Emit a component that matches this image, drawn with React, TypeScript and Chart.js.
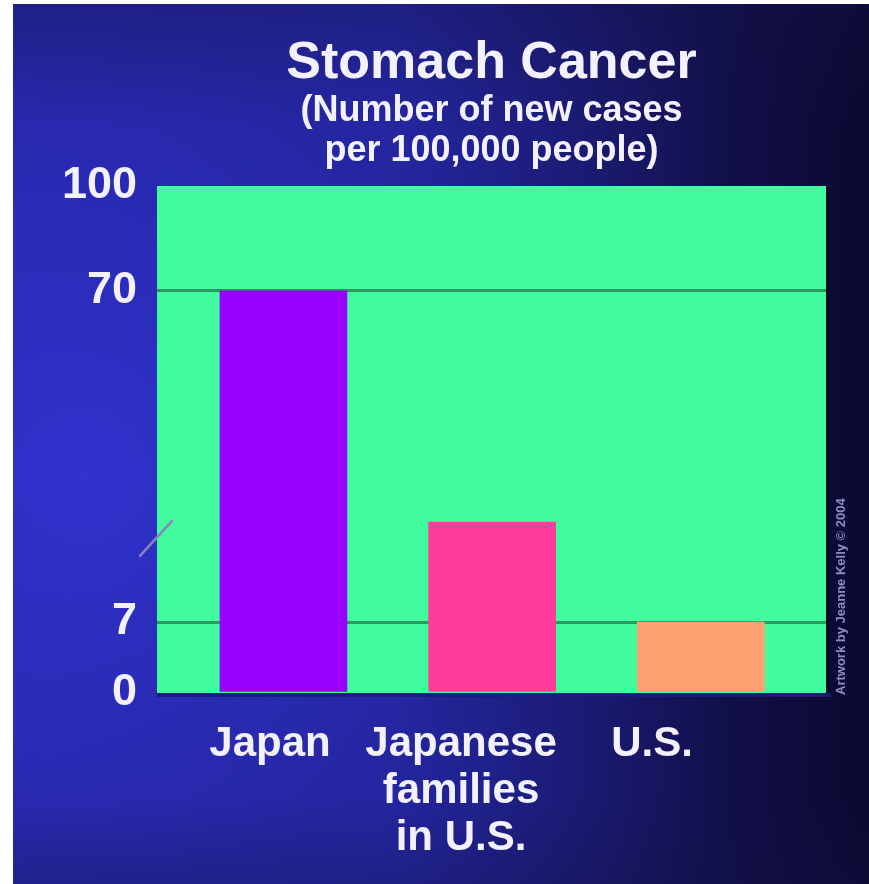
import { useEffect, useRef } from 'react';
import { Chart, registerables, LinearScale } from 'chart.js';

// Incidence of stomach cancer, new cases per 100,000 people
const categories: (string | string[])[] = ['Japan', ['Japanese', 'families', 'in U.S.'], 'U.S.'];
const newCasesPer100k = [70, 26, 7];
const barColors = ['#9a00ff', '#ff3c9c', '#ffa072'];
const yTickValues = [0, 7, 70, 100];
const highlightedLines = [7, 70];

const FONT = "'Liberation Sans', Arial, Helvetica, sans-serif";
const TEXT = '#f3f1ff';
const PLOT_GREEN = '#41fc9e';
const LINE_GREEN = '#2b9a5e';

// Linear scale with a broken (piecewise) value axis: each stop pairs a value
// with the fraction of the axis length at which it sits.
class BrokenLinearScale extends LinearScale {
  static id = 'brokenLinear';
  static defaults = { ...(LinearScale as any).defaults };

  stopList(): [number, number][] {
    return (this.options as any).stops;
  }

  getPixelForValue(value: number) {
    if (value === null || value === undefined || isNaN(value)) return NaN;
    const s = this.stopList();
    let dec = s[s.length - 1][1];
    if (value <= s[0][0]) {
      dec = s[0][1];
    } else {
      for (let i = 1; i < s.length; i++) {
        if (value <= s[i][0]) {
          const [v0, f0] = s[i - 1];
          const [v1, f1] = s[i];
          dec = f0 + ((value - v0) / (v1 - v0)) * (f1 - f0);
          break;
        }
      }
    }
    return this.getPixelForDecimal(dec);
  }

  getValueForPixel(pixel: number) {
    const dec = this.getDecimalForPixel(pixel);
    const s = this.stopList();
    for (let i = 1; i < s.length; i++) {
      if (dec <= s[i][1]) {
        const [v0, f0] = s[i - 1];
        const [v1, f1] = s[i];
        return v0 + ((dec - f0) / (f1 - f0)) * (v1 - v0);
      }
    }
    return s[s.length - 1][0];
  }
}

Chart.register(...registerables, BrokenLinearScale);

// Slide-style backdrop, green plot panel and its shadowed edges
const backdropPlugin = {
  id: 'backdrop',
  beforeDraw(chart: any) {
    const { ctx, width, height, chartArea: a } = chart;
    ctx.save();
    const base = ctx.createLinearGradient(0, 0, width, 0);
    base.addColorStop(0, 'rgb(40,40,172)');
    base.addColorStop(0.45, 'rgb(36,38,160)');
    base.addColorStop(0.68, 'rgb(26,26,112)');
    base.addColorStop(0.84, 'rgb(17,15,72)');
    base.addColorStop(1, 'rgb(11,9,48)');
    ctx.fillStyle = base;
    ctx.fillRect(0, 0, width, height);

    const glow = ctx.createRadialGradient(70, 470, 0, 70, 470, 420);
    glow.addColorStop(0, 'rgba(52,54,220,0.75)');
    glow.addColorStop(0.6, 'rgba(48,50,205,0.35)');
    glow.addColorStop(1, 'rgba(48,50,205,0)');
    ctx.fillStyle = glow;
    ctx.fillRect(0, 0, width, height);

    const vert = ctx.createLinearGradient(0, 0, 0, height);
    vert.addColorStop(0, 'rgba(18,18,70,0.35)');
    vert.addColorStop(0.14, 'rgba(18,18,70,0)');
    vert.addColorStop(0.9, 'rgba(18,18,70,0)');
    vert.addColorStop(1, 'rgba(18,18,70,0.3)');
    ctx.fillStyle = vert;
    ctx.fillRect(0, 0, width, height);

    // panel shadow on the right and bottom
    ctx.fillStyle = 'rgba(10,10,45,0.9)';
    ctx.fillRect(a.right, a.top + 2, 5, a.bottom - a.top + 3);
    ctx.fillStyle = 'rgba(26,28,120,0.95)';
    ctx.fillRect(a.left, a.bottom, a.right - a.left + 5, 4);

    ctx.fillStyle = PLOT_GREEN;
    ctx.fillRect(a.left, a.top, a.right - a.left, a.bottom - a.top);
    ctx.restore();
  },
};

// Axis-break slash and the vertical credit line
const overlayPlugin = {
  id: 'overlay',
  afterDraw(chart: any) {
    const { ctx, chartArea: a, scales } = chart;
    const yBreak = scales.y.getPixelForValue(23);
    ctx.save();
    ctx.strokeStyle = '#8c82bc';
    ctx.lineWidth = 2.5;
    ctx.lineCap = 'round';
    ctx.beginPath();
    ctx.moveTo(a.left - 17, yBreak + 18);
    ctx.lineTo(a.left + 15, yBreak - 17);
    ctx.stroke();

    ctx.translate(a.right + 15, a.bottom + 2);
    ctx.rotate(-Math.PI / 2);
    ctx.fillStyle = '#8f8ec2';
    ctx.font = `bold 13px ${FONT}`;
    ctx.textAlign = 'left';
    ctx.textBaseline = 'middle';
    ctx.fillText('Artwork by Jeanne Kelly \u00a9 2004', 0, 0);
    ctx.restore();
  },
};

export default function App() {
  const canvasRef = useRef<HTMLCanvasElement | null>(null);

  useEffect(() => {
    const canvas = canvasRef.current;
    if (!canvas) return;
    Chart.defaults.font.family = FONT;

    const chart = new Chart(canvas, {
      type: 'bar',
      data: {
        datasets: [
          {
            data: newCasesPer100k.map((v, i) => ({ x: i + 1, y: v })) as any,
            backgroundColor: barColors,
            borderWidth: 0,
            barThickness: 127,
            xAxisID: 'x',
            yAxisID: 'y',
          },
        ],
      },
      options: {
        animation: false,
        responsive: true,
        maintainAspectRatio: false,
        layout: { padding: { left: 0, right: 43, top: 0, bottom: 0 } },
        plugins: {
          legend: { display: false },
          tooltip: { enabled: false },
          title: {
            display: true,
            text: 'Stomach Cancer',
            color: TEXT,
            fullSize: false,
            font: { family: FONT, size: 52, weight: 'bold', lineHeight: 1 },
            padding: { top: 34, bottom: 0 },
          },
          subtitle: {
            display: true,
            text: ['(Number of new cases', 'per 100,000 people)'],
            color: TEXT,
            fullSize: false,
            font: { family: FONT, size: 36, weight: 'bold', lineHeight: 40 / 36 },
            padding: { top: 1.5, bottom: 14.5 },
          },
        },
        scales: {
          x: {
            type: 'linear',
            offset: false,
            min: 0.394,
            max: 3.6,
            display: false,
            grid: { offset: false },
          },
          xl: {
            type: 'linear',
            position: 'bottom',
            offset: false,
            min: 0.408,
            max: 3.911,
            grid: { display: false, offset: false },
            border: { display: false },
            afterBuildTicks: (s: any) => {
              s.ticks = categories.map((_, i) => ({ value: i + 1 }));
            },
            afterFit: (s: any) => {
              s.height = 191;
            },
            ticks: {
              autoSkip: false,
              maxRotation: 0,
              padding: 20,
              color: TEXT,
              font: { family: FONT, size: 42, weight: 'bold', lineHeight: 1.12 },
              callback: (v: any) => categories[Math.round(Number(v)) - 1] as any,
            },
          },
          y: {
            type: 'brokenLinear' as any,
            min: 0,
            max: 100,
            stops: [
              [0, 0],
              [7, 0.14],
              [70, 0.793],
              [100, 1],
            ],
            afterBuildTicks: (s: any) => {
              s.ticks = yTickValues.map((v) => ({ value: v }));
            },
            afterFit: (s: any) => {
              s.width = 144;
            },
            grid: {
              drawTicks: false,
              lineWidth: 3,
              color: (c: any) =>
                c.tick && highlightedLines.includes(c.tick.value) ? LINE_GREEN : 'rgba(0,0,0,0)',
            },
            border: { display: false },
            ticks: {
              padding: 20,
              color: TEXT,
              font: { family: FONT, size: 45, weight: 'bold' },
              callback: (v: any) => String(v),
            },
          } as any,
        },
      },
      plugins: [backdropPlugin, overlayPlugin],
    });

    return () => chart.destroy();
  }, []);

  return (
    <div style={{ position: 'absolute', left: 13, top: 4, width: 856, height: 880 }}>
      <canvas ref={canvasRef} />
    </div>
  );
}
